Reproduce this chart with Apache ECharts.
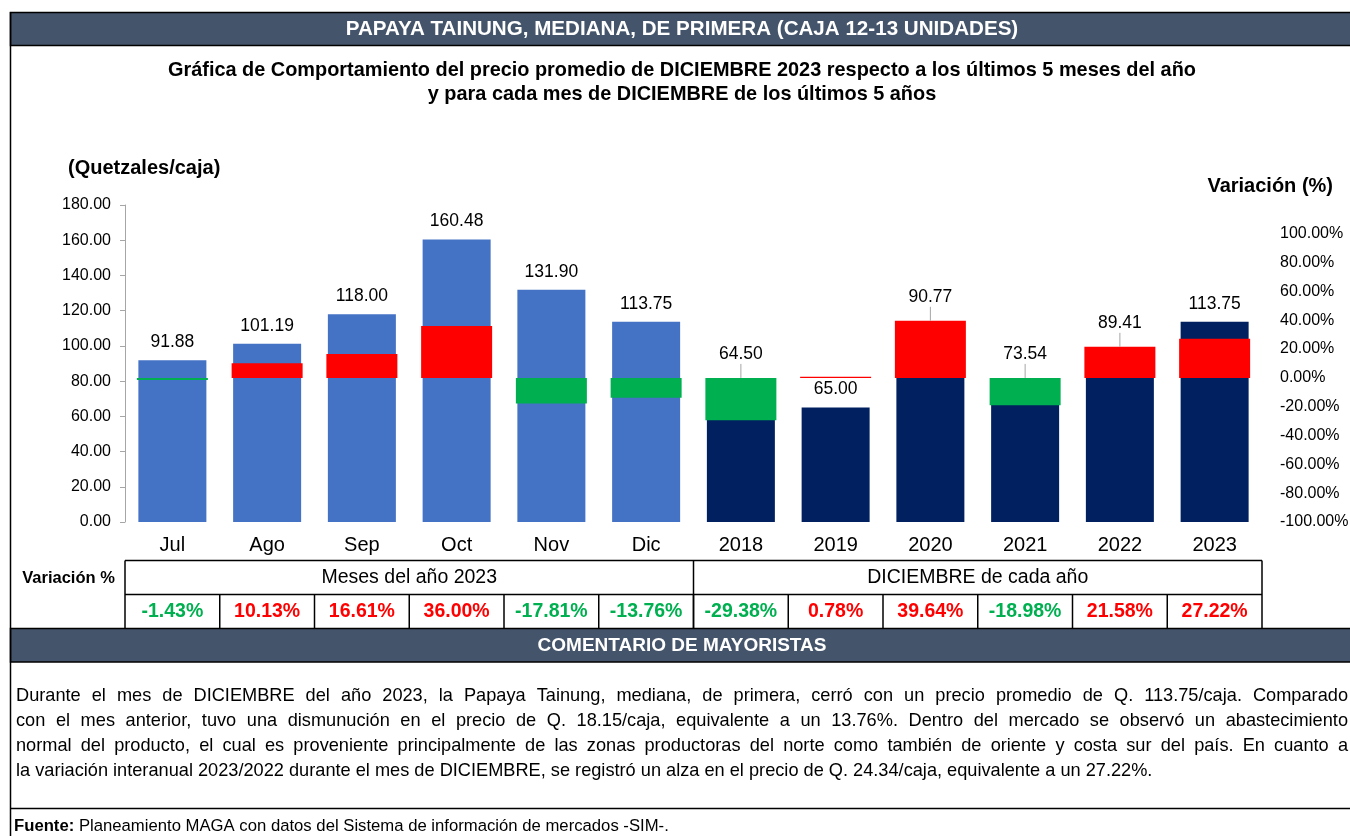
<!DOCTYPE html>
<html><head><meta charset="utf-8">
<script src="https://cdn.jsdelivr.net/npm/echarts@6/dist/echarts.min.js"></script>
<style>html,body{margin:0;padding:0;background:#fff;}#c{width:1350px;height:836px;}</style>
</head><body><div id="c"></div>
<script>
// ---------------- DATA ----------------
const headerTitle = 'PAPAYA TAINUNG, MEDIANA, DE PRIMERA (CAJA 12-13 UNIDADES)';
const chartTitleLines = [
  'Gráfica de Comportamiento del precio promedio de DICIEMBRE 2023 respecto a los últimos 5 meses del año',
  'y para cada mes de DICIEMBRE de los últimos 5 años'
];
const leftAxisName = '(Quetzales/caja)';
const rightAxisName = 'Variación (%)';
const categories = ['Jul', 'Ago', 'Sep', 'Oct', 'Nov', 'Dic', '2018', '2019', '2020', '2021', '2022', '2023'];
const prices = [91.88, 101.19, 118.00, 160.48, 131.90, 113.75, 64.50, 65.00, 90.77, 73.54, 89.41, 113.75];
const variations = [-1.43, 10.13, 16.61, 36.00, -17.81, -13.76, -29.38, 0.78, 39.64, -18.98, 21.58, 27.22];
const groupNames = ['Meses del año 2023', 'DICIEMBRE de cada año'];
const groupSizes = [6, 6];
const tableRowLabel = 'Variación %';
const commentHeader = 'COMENTARIO DE MAYORISTAS';
const commentLines = [
  'Durante el mes de DICIEMBRE del año 2023, la Papaya Tainung, mediana, de primera, cerró con un precio promedio de Q. 113.75/caja. Comparado',
  'con el mes anterior, tuvo una dismunución en el precio  de Q. 18.15/caja, equivalente a un 13.76%. Dentro del mercado se observó un abastecimiento',
  'normal del producto, el cual es proveniente principalmente de las zonas productoras del norte como también de oriente y costa sur del país. En cuanto a',
  'la variación interanual 2023/2022 durante el mes de DICIEMBRE, se registró un alza en el precio de Q. 24.34/caja, equivalente a un 27.22%.'
];
const sourceBold = 'Fuente:';
const sourceText = ' Planeamiento MAGA con datos del Sistema de información de mercados -SIM-.';
const priceAxis = { min: 0, max: 180, interval: 20 };
const varAxis = { min: -100, max: 120, interval: 20 };

// ---------------- STYLE ----------------
const FONT = "'Liberation Sans', Arial, sans-serif";
const C_LIGHT = '#4472c4', C_DARK = '#002060', C_RED = '#ff0000', C_GREEN = '#00b050', C_HEAD = '#44546a';

const chart = echarts.init(document.getElementById('c'), null, { renderer: 'canvas' });

function toLeft(p) {
  return priceAxis.min + (p - varAxis.min) / (varAxis.max - varAxis.min) * (priceAxis.max - priceAxis.min);
}
const labelData = categories.map((c, i) => {
  const a = toLeft(0), b = toLeft(variations[i]);
  const lo = Math.min(a, b), hi = Math.max(a, b);
  const disp = prices[i] > lo && prices[i] < hi;
  return [i, prices[i], disp ? hi : prices[i], disp ? 1 : 0];
});

const firstGroup = groupSizes[0];

const option = {
  animation: false,
  backgroundColor: '#fff',
  textStyle: { fontFamily: FONT },
  grid: { left: 125, right: 88, top: 205, bottom: 314, outerBoundsMode: 'none', containLabel: false },
  xAxis: [
    { type: 'category', data: categories, axisLine: { show: false }, axisTick: { show: false },
      axisLabel: { fontSize: 20, color: '#000', margin: 13, fontFamily: FONT, interval: 0 } },
    { type: 'category', data: categories, show: false }
  ],
  yAxis: [
    { type: 'value', min: priceAxis.min, max: priceAxis.max, interval: priceAxis.interval, position: 'left',
      splitLine: { show: false },
      axisLine: { show: true, lineStyle: { color: '#a6a6a6', width: 1 } },
      axisTick: { show: true, length: 5, lineStyle: { color: '#a6a6a6' } },
      axisLabel: { fontSize: 16, color: '#000', margin: 14, fontFamily: FONT, formatter: v => v.toFixed(2) } },
    { type: 'value', min: varAxis.min, max: varAxis.max, interval: varAxis.interval, position: 'right',
      splitLine: { show: false }, axisLine: { show: false }, axisTick: { show: false },
      axisLabel: { fontSize: 16, color: '#000', margin: 18, align: 'left', fontFamily: FONT,
        formatter: v => (v >= varAxis.max ? '' : v.toFixed(2) + '%') } }
  ],
  series: [
    { name: 'Precio', type: 'bar', xAxisIndex: 0, yAxisIndex: 0, barWidth: 68, z: 2,
      data: prices.map((v, i) => ({ value: v, itemStyle: { color: i < firstGroup ? C_LIGHT : C_DARK } })) },
    { name: 'Variación', type: 'bar', xAxisIndex: 1, yAxisIndex: 1, barWidth: 71, z: 3,
      data: variations.map(v => ({ value: v, itemStyle: { color: v < 0 ? C_GREEN : C_RED } })) },
    { name: 'Etiquetas', type: 'custom', xAxisIndex: 0, yAxisIndex: 0, z: 5, silent: true,
      data: labelData,
      renderItem: function (params, api) {
        const idx = api.value(0), val = api.value(1), anchor = api.value(2), disp = api.value(3);
        const pt = api.coord([idx, anchor]);
        const cy = pt[1] - (disp ? 24 : 18);
        const children = [{ type: 'text', style: { text: val.toFixed(2), x: pt[0], y: cy, align: 'center',
          verticalAlign: 'middle', fontSize: 17.5, fontFamily: FONT, fill: '#000' } }];
        if (disp) children.push({ type: 'line', shape: { x1: pt[0], y1: cy + 10, x2: pt[0], y2: pt[1] },
          style: { stroke: '#a6a6a6', lineWidth: 1 } });
        return { type: 'group', children: children };
      } }
  ]
};
chart.setOption(option);

// ---------------- FRAME, TABLE, TEXT ----------------
const g = [];
const line = (x1, y1, x2, y2, w, col) => g.push({ type: 'line', silent: true, z: 10,
  shape: { x1, y1, x2, y2 }, style: { stroke: col || '#000', lineWidth: w || 1.5 } });
const text = (t, x, y, size, opts) => g.push({ type: 'text', silent: true, z: 11,
  style: Object.assign({ text: t, x, y, fontSize: size, fontFamily: FONT, fill: '#000', align: 'center', verticalAlign: 'middle' }, opts || {}) });

const FX = 10.5, FR = 1360, CX = 682;
// header bar
g.push({ type: 'rect', z: 9, silent: true, shape: { x: FX, y: 12.5, width: FR - FX, height: 33 },
  style: { fill: C_HEAD, stroke: '#000', lineWidth: 1.5 } });
text(headerTitle, CX, 29.5, 20.6, { fill: '#fff', fontWeight: 'bold' });
// left frame
line(FX, 12, FX, 836);
// titles
text(chartTitleLines[0], CX, 71, 19.9, { fontWeight: 'bold' });
text(chartTitleLines[1], CX, 95, 19.9, { fontWeight: 'bold' });
text(leftAxisName, 68, 168, 20, { fontWeight: 'bold', align: 'left' });
text(rightAxisName, 1333, 186, 20, { fontWeight: 'bold', align: 'right' });

// table aligned with category axis
const cx = categories.map((c, i) => chart.convertToPixel({ xAxisIndex: 0 }, i));
const band = cx[1] - cx[0];
const edges = cx.map(x => x - band / 2).concat([cx[cx.length - 1] + band / 2]);
const T0 = 560.5, T1 = 594.5, T2 = 628.5;
const tl = edges[0], tr = edges[edges.length - 1];
line(tl, T0, tr, T0); line(tl, T1, tr, T1);
line(tl, T0, tl, T2); line(tr, T0, tr, T2);
let k = 0;
groupSizes.forEach((n, gi) => {
  const a = edges[k], b = edges[k + n];
  text(groupNames[gi], (a + b) / 2, (T0 + T1) / 2 + 0.5, 19.5);
  if (k > 0) line(a, T0, a, T2);
  k += n;
});
for (let i = 1; i < categories.length; i++) line(edges[i], T1, edges[i], T2);
variations.forEach((v, i) => {
  text(v.toFixed(2) + '%', cx[i], (T1 + T2) / 2 + 0.5, 19.5, { fontWeight: 'bold', fill: v < 0 ? C_GREEN : C_RED });
});
text(tableRowLabel, 68.5, 578, 16.5, { fontWeight: 'bold' });

// comment header
g.push({ type: 'rect', z: 9, silent: true, shape: { x: FX, y: T2, width: FR - FX, height: 33.5 },
  style: { fill: C_HEAD, stroke: '#000', lineWidth: 1.5 } });
text(commentHeader, CX, T2 + 17, 19, { fill: '#fff', fontWeight: 'bold' });

// comment text (justified)
const ctx = document.createElement('canvas').getContext('2d');
const measure = (s, size) => { ctx.font = size + 'px ' + FONT; return ctx.measureText(s).width; };
const TL = 16, TR = 1348;
const lastW = 1137;
const cSize = 18 * lastW / measure(commentLines[commentLines.length - 1], 18);
const lineYs = [696, 720.5, 745.5, 770.5];
commentLines.forEach((ln, li) => {
  if (li === commentLines.length - 1) {
    text(ln, TL, lineYs[li], cSize, { align: 'left' });
    return;
  }
  const words = ln.split(' ').filter(w => w.length);
  const ws = words.map(w => measure(w, cSize));
  const total = ws.reduce((s, w) => s + w, 0);
  const gap = (TR - TL - total) / (words.length - 1);
  let x = TL;
  words.forEach((w, wi) => { text(w, x, lineYs[li], cSize, { align: 'left' }); x += ws[wi] + gap; });
});

// footer
line(FX, 808.5, FR, 808.5);
g.push({ type: 'text', silent: true, z: 11, style: { x: 14, y: 826, verticalAlign: 'middle', align: 'left',
  text: '{b|' + sourceBold + '}{r|' + sourceText + '}',
  rich: { b: { fontSize: 16.7, fontWeight: 'bold', fontFamily: FONT, fill: '#000' },
          r: { fontSize: 16.7, fontFamily: FONT, fill: '#000' } } } });

chart.setOption({ graphic: { elements: g } });
</script>
</body></html>
